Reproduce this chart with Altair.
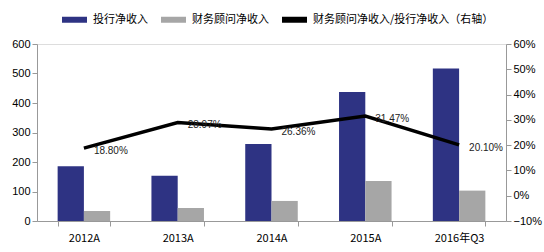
import altair as alt
import pandas as pd

categories = ["2012A", "2013A", "2014A", "2015A", "2016年Q3"]
ib_revenue = [186, 153, 261, 437, 517]
fa_revenue = [34, 44, 68, 136, 103]
ratio = [18.80, 28.97, 26.36, 31.47, 20.10]

s1 = "投行净收入"
s2 = "财务顾问净收入"
s3 = "财务顾问净收入/投行净收入（右轴）"

bars = pd.DataFrame(
    [{"cat": c, "series": s1, "value": v} for c, v in zip(categories, ib_revenue)]
    + [{"cat": c, "series": s2, "value": v} for c, v in zip(categories, fa_revenue)]
)
line = pd.DataFrame({
    "cat": categories,
    "series": [s3] * len(categories),
    "ratio": [r / 100 for r in ratio],
    "label": [f"{r:.2f}%" for r in ratio],
})

FONT = "Liberation Sans"
CJK = "Noto Sans CJK SC"

color = alt.Color(
    "series:N",
    scale=alt.Scale(domain=[s1, s2, s3], range=["#2E3383", "#A6A6A6", "#000000"]),
    legend=alt.Legend(
        title=None, orient="none", direction="horizontal", legendX=22, legendY=-40,
        symbolType="stroke", symbolSize=625, symbolStrokeWidth=6,
        labelFont=CJK, labelFontSize=11, labelColor="#000", columnPadding=1,
        labelOffset=3, labelLimit=0,
    ),
)

xenc = alt.X(
    "cat:N", sort=categories, title=None,
    scale=alt.Scale(paddingInner=0.44, paddingOuter=0.22),
    axis=alt.Axis(labelAngle=0, tickBand="extent", domainColor="#999", tickColor="#999",
                  labelFont=CJK, labelFontSize=11, labelColor="#000", labelPadding=6, tickSize=5),
)

bar = alt.Chart(bars).mark_bar().encode(
    x=xenc,
    xOffset=alt.XOffset("series:N", sort=[s1, s2]),
    y=alt.Y("value:Q", title=None, scale=alt.Scale(domain=[0, 600]),
            axis=alt.Axis(values=[0, 100, 200, 300, 400, 500, 600], grid=False,
                          domainColor="#999", tickColor="#999", tickSize=5,
                          labelFont=FONT, labelFontSize=11, labelColor="#000")),
    color=color,
)

yr = alt.Y("ratio:Q", title=None, scale=alt.Scale(domain=[-0.1, 0.6]),
           axis=alt.Axis(orient="right", format=".0%", grid=False,
                         values=[-0.1, 0, 0.1, 0.2, 0.3, 0.4, 0.5, 0.6],
                         domainColor="#999", tickColor="#999", tickSize=5,
                         labelFont=FONT, labelFontSize=11, labelColor="#000"))

ln = alt.Chart(line).mark_line(strokeWidth=3.5).encode(
    x=alt.X("cat:N", sort=categories),
    y=yr,
    color=color,
)
txt = alt.Chart(line).mark_text(align="left", dx=10, dy=3, font=FONT, fontSize=10, color="#222").encode(
    x=alt.X("cat:N", sort=categories),
    y=yr,
    text="label:N",
)

right = alt.layer(ln, txt)

chart = alt.layer(bar, right).resolve_scale(y="independent").properties(
    width=469, height=177,
    autosize=alt.AutoSizeParams(type="none"),
    padding={"left": 37, "top": 44, "right": 38, "bottom": 31},
).configure_view(stroke=None).configure(background="white")

chart.save("out.html", embed_options={"renderer": "svg", "actions": False})
